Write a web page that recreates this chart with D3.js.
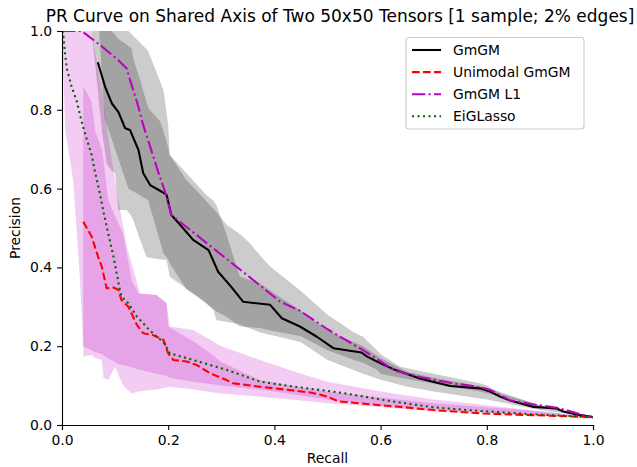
<!DOCTYPE html>
<html>
<head>
<meta charset="utf-8">
<script src="https://cdn.jsdelivr.net/npm/d3@7"></script>
<style>
  html, body { margin: 0; padding: 0; background: #fff; }
  svg { display: block; font-family: "DejaVu Sans", sans-serif; }
</style>
</head>
<body>
<svg id="chart" width="637" height="467"></svg>
<script>
// ---- series: mean precision along recall ----
const gmgmRecall = [.068, .081, .094, .106, .119, .128, .144, .153, .166, .188, .197, .206, .222, .247, .276, .294, .316, .341, .392, .414, .448, .48, .511, .564, .574, .599, .627, .674, .731, .787, .806, .825, .844, .888, .932, .944, .975, 1.0];
const gmgmPrecision = [.918, .859, .816, .795, .753, .749, .698, .639, .609, .592, .584, .533, .509, .47, .444, .389, .355, .313, .305, .271, .25, .224, .195, .184, .174, .157, .14, .118, .099, .093, .085, .072, .062, .046, .042, .034, .025, .02];

const uniRecall = [.04, .056, .068, .075, .084, .097, .106, .112, .125, .141, .153, .172, .191, .2, .21, .235, .254, .279, .31, .322, .373, .42, .47, .5, .52, .6, .637, .699, .793, .887, .994];
const uniPrecision = [.516, .478, .427, .402, .347, .349, .343, .317, .3, .254, .233, .228, .216, .182, .165, .161, .152, .131, .114, .106, .097, .09, .082, .072, .06, .05, .046, .038, .029, .025, .02];

const l1Recall = [0, .037, .072, .106, .122, .128, .141, .153, .169, .181, .194, .206, .25, .3, .35, .411, .448, .5, .567, .627, .674, .731, .787, .806, .844, .888, .932, .975, 1.0];
const l1Precision = [1, 1, .964, .926, .905, .876, .821, .761, .694, .643, .592, .533, .486, .432, .379, .313, .29, .243, .19, .138, .122, .107, .096, .089, .063, .052, .044, .028, .02];

const eigRecall = [0, .002, .004, .009, .018, .028, .037, .046, .056, .062, .072, .078, .087, .097, .106, .109, .112, .125, .141, .162, .178, .191, .203, .247, .31, .373, .45, .52, .6, .637, .699, .762, .887, 1.0];
const eigPrecision = [1, .998, .964, .905, .859, .821, .77, .728, .685, .643, .584, .541, .486, .427, .364, .343, .326, .309, .275, .245, .224, .211, .182, .165, .14, .11, .095, .083, .065, .057, .045, .038, .027, .02];

// ---- spread bands (lower / upper precision at each recall) ----
const gmgmBandRecall = [.056, .075, .084, .093, .1, .106, .122, .131, .134, .147, .159, .163, .185, .197, .203, .272, .285, .291, .31, .335, .373, .404, .45, .5, .567, .6, .65, .7, .8, .9, 1.0];
const gmgmBandLow = [1.0, .749, .664, .645, .639, .546, .546, .529, .52, .47, .427, .425, .42, .419, .376, .31, .292, .266, .262, .255, .235, .225, .21, .165, .13, .115, .097, .085, .065, .038, .02];
const gmgmBandHigh = [1.0, 1.0, 1.0, 1.0, .99, .98, .965, .956, .93, .876, .82, .804, .77, .72, .685, .584, .57, .558, .482, .376, .36, .33, .29, .24, .2, .17, .135, .12, .095, .05, .02];

const l1BandRecall = [.037, .07, .08, .1, .125, .162, .191, .2, .203, .235, .25, .291, .31, .335, .354, .373, .392, .45, .5, .55, .567, .593, .6, .637, .7, .787, .8, .825, .9, 1.0];
const l1BandLow = [1.0, 1.0, .78, .7, .6, .571, .436, .42, .41, .343, .33, .288, .275, .25, .248, .246, .24, .225, .19, .165, .158, .14, .13, .12, .105, .085, .08, .075, .045, .02];
const l1BandHigh = [1.0, 1.0, 1.0, 1.0, 1.0, .95, .85, .761, .685, .62, .6, .54, .508, .485, .461, .43, .402, .34, .28, .235, .224, .19, .18, .148, .13, .106, .1, .08, .05, .02];

const uniBandRecall = [.04, .056, .062, .075, .078, .087, .1, .115, .131, .144, .178, .197, .2, .25, .272, .3, .373, .45, .5, .6, .7, .8, .9, 1.0];
const uniBandLow = [.173, .178, .17, .165, .12, .114, .148, .1, .08, .085, .09, .095, .097, .09, .085, .08, .072, .062, .055, .045, .035, .03, .025, .02];
const uniBandHigh = [.86, .82, .749, .7, .673, .571, .53, .486, .368, .334, .33, .309, .25, .21, .19, .16, .114, .095, .085, .07, .055, .045, .035, .02];

const eigBandRecall = [0, .006, .021, .034, .04, .056, .062, .075, .085, .1, .106, .122, .147, .178, .197, .203, .247, .3, .373, .45, .5, .6, .7, .8, .9, 1.0];
const eigBandLow = [1.0, .749, .622, .368, .2, .19, .185, .18, .17, .16, .155, .15, .14, .13, .125, .12, .11, .1, .09, .075, .065, .05, .04, .032, .025, .02];
const eigBandHigh = [1.0, 1.0, 1.0, 1.0, 1.0, 1.0, .95, .85, .75, .62, .571, .453, .334, .33, .309, .25, .241, .2, .165, .13, .11, .085, .065, .05, .035, .02];

// ---- axes and labels ----
const xTicks = [0, 0.2, 0.4, 0.6, 0.8, 1.0];
const yTicks = [0, 0.2, 0.4, 0.6, 0.8, 1.0];
const titleText = "PR Curve on Shared Axis of Two 50x50 Tensors [1 sample; 2% edges]";
const xLabel = "Recall";
const yLabel = "Precision";

const seriesNames = ["GmGM", "Unimodal GmGM", "GmGM L1", "EiGLasso"];
const seriesColors = ["#000000", "#ff0000", "#bf00bf", "#006400"];
const seriesDashes = ["none", "7.7,3.3", "13.3,3.3,2.1,3.3", "2.1,3.4"];

const svg = d3.select("#chart");
const margin = { left: 62, right: 44, top: 31, bottom: 42 };
const W = 637, H = 467;

const x = d3.scaleLinear().domain([0, 1]).range([margin.left, W - margin.right]);
const y = d3.scaleLinear().domain([0, 1]).range([H - margin.bottom, margin.top]);

const plot = svg.append("g");
svg.append("clipPath").attr("id", "plotclip")
  .append("rect")
  .attr("x", x(0)).attr("y", y(1))
  .attr("width", x(1) - x(0)).attr("height", y(0) - y(1));
plot.attr("clip-path", "url(#plotclip)");

function band(rs, lo, hi, color) {
  const pts = rs.map((r, i) => ({ r, lo: lo[i], hi: hi[i] }));
  const area = d3.area().x(d => x(d.r)).y0(d => y(d.lo)).y1(d => y(d.hi));
  plot.append("path").attr("d", area(pts))
    .attr("fill", color).attr("fill-opacity", 0.2).attr("stroke", "none");
}

band(gmgmBandRecall, gmgmBandLow, gmgmBandHigh, "#000000");
band(uniBandRecall, uniBandLow, uniBandHigh, "#bf00bf");
band(l1BandRecall, l1BandLow, l1BandHigh, "#000000");
band(eigBandRecall, eigBandLow, eigBandHigh, "#bf00bf");

const line = d3.line().x(d => x(d[0])).y(d => y(d[1]));
const series = [
  [gmgmRecall, gmgmPrecision],
  [uniRecall, uniPrecision],
  [l1Recall, l1Precision],
  [eigRecall, eigPrecision]
];
series.forEach(([rs, ps], i) => {
  plot.append("path")
    .attr("d", line(rs.map((r, j) => [r, ps[j]])))
    .attr("fill", "none")
    .attr("stroke", seriesColors[i])
    .attr("stroke-width", 2.08)
    .attr("stroke-dasharray", seriesDashes[i])
    .attr("stroke-linejoin", "round")
    .attr("stroke-linecap", i === 0 ? "square" : "butt");
});

// axes: left and bottom spines only
const fmt = d3.format(".1f");
const xAxis = svg.append("g")
  .attr("transform", `translate(0,${y(0)})`)
  .call(d3.axisBottom(x).tickValues(xTicks).tickFormat(fmt).tickSize(4.9).tickPadding(4.9));
const yAxis = svg.append("g")
  .attr("transform", `translate(${x(0)},0)`)
  .call(d3.axisLeft(y).tickValues(yTicks).tickFormat(fmt).tickSize(4.9).tickPadding(4.9));
[xAxis, yAxis].forEach(g => {
  g.selectAll("path.domain").attr("stroke", "#000").attr("stroke-width", 1.1);
  g.selectAll(".tick line").attr("stroke", "#000").attr("stroke-width", 1.1);
  g.selectAll(".tick text").attr("fill", "#000")
    .style("font-family", "'DejaVu Sans', sans-serif").style("font-size", "13.9px");
});

svg.append("text")
  .attr("x", 340).attr("y", 21.5)
  .attr("text-anchor", "middle")
  .style("font-size", "17px")
  .text(titleText);

svg.append("text")
  .attr("x", (x(0) + x(1)) / 2).attr("y", 463)
  .attr("text-anchor", "middle")
  .style("font-size", "13.9px")
  .text(xLabel);

svg.append("text")
  .attr("transform", `translate(20,${(y(0) + y(1)) / 2}) rotate(-90)`)
  .attr("text-anchor", "middle")
  .style("font-size", "13.9px")
  .text(yLabel);

// legend
const lg = svg.append("g");
lg.append("rect")
  .attr("x", 406).attr("y", 37.5).attr("width", 178).attr("height", 91.5)
  .attr("rx", 3).attr("ry", 3)
  .attr("fill", "#fff").attr("fill-opacity", 0.8)
  .attr("stroke", "#cccccc").attr("stroke-width", 1.1);
seriesNames.forEach((name, i) => {
  const cy = 50 + i * 22.1;
  lg.append("line")
    .attr("x1", 412).attr("x2", 441).attr("y1", cy).attr("y2", cy)
    .attr("stroke", seriesColors[i]).attr("stroke-width", 2.08)
    .attr("stroke-dasharray", seriesDashes[i]);
  lg.append("text")
    .attr("x", 453).attr("y", cy + 5)
    .style("font-size", "13.9px")
    .text(name);
});
</script>
</body>
</html>
